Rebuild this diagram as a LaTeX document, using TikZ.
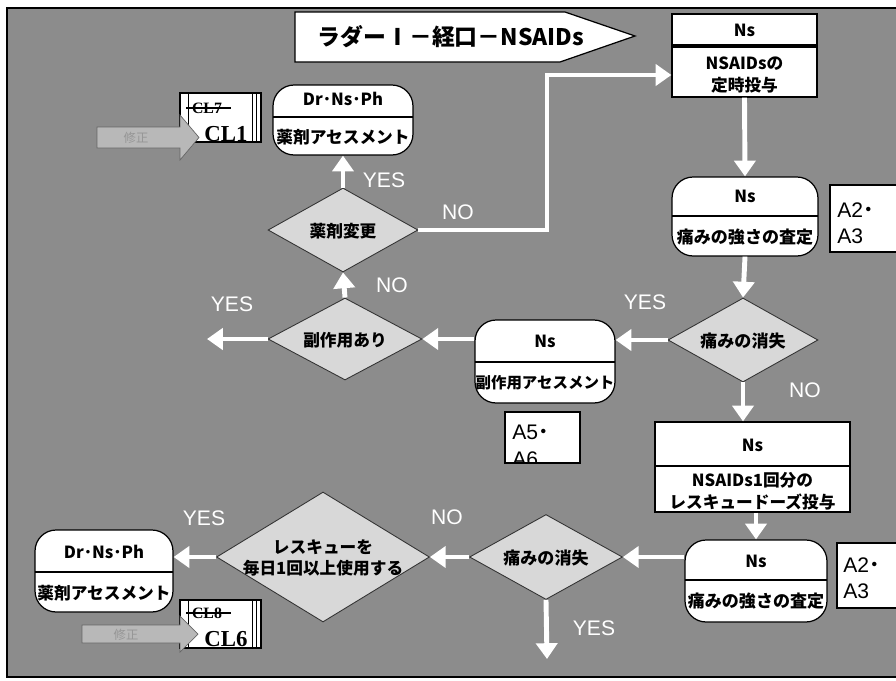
\documentclass[tikz,border=0pt]{standalone}
\usepackage{fontspec}
\setmainfont{Liberation Sans}
\newfontfamily\jp{Noto Sans CJK JP}
\newfontfamily\serifb{Liberation Serif}
\usetikzlibrary{shapes.geometric,arrows.meta}
\definecolor{bg}{RGB}{140,140,140}
\definecolor{dfill}{RGB}{216,216,216}
\definecolor{afill}{RGB}{184,184,184}
\definecolor{atext}{RGB}{150,150,150}
\begin{document}
\begin{tikzpicture}[x=0.02cm,y=-0.02cm,
  jptxt/.style={font=\jp\bfseries\fontsize{9.5}{13}\selectfont, align=center, inner sep=0pt},
  jpbig/.style={font=\jp\bfseries\fontsize{9.7}{13}\selectfont, align=center, inner sep=0pt},
  assess/.style={draw=black, fill=white, rounded corners=12pt, line width=0.7pt, inner sep=0pt},
  sbox/.style={draw=black, fill=white, line width=0.7pt, inner sep=0pt},
  sepline/.style={draw=black, line width=1pt},
  dia/.style={diamond, draw=black!80, fill=dfill, line width=0.5pt, inner sep=0pt},
  warr/.style={draw=white, line width=2.8pt, -{Triangle[width=12pt,length=9pt]}},
  lbl/.style={text=white, font=\fontsize{12}{12}\selectfont, inner sep=0pt},
  atxt/.style={font=\fontsize{12}{12}\selectfont, inner sep=0pt, anchor=west},
  cltxt/.style={font=\serifb\bfseries\fontsize{13}{13}\selectfont, inner sep=0pt},
  clold/.style={font=\serifb\bfseries\fontsize{9}{9}\selectfont, inner sep=0pt},
  corr/.style={fill=afill, draw=black!60, line width=0.4pt},
  corrtxt/.style={font=\jp\fontsize{7}{7}\selectfont, text=atext, inner sep=0pt}]

% canvas
\fill[white] (0,0) rectangle (896,680);
\useasboundingbox (0,0) rectangle (896,680);
\fill[bg] (7,8) rectangle (900,677);
\draw[black, line width=0.8pt] (900,8) -- (7,8) -- (7,677) -- (900,677);

% title
\draw[sbox] (295,12) -- (565,12) -- (635,36) -- (560,62) -- (295,62) -- cycle;
\node[font=\jp\bfseries\fontsize{13}{13}\selectfont, inner sep=0pt] (title) at (451,37) {ラダーⅠ－経口－NSAIDs};

% top box Ns / NSAIDs
\node[sbox, minimum width=2.9cm, minimum height=1.66cm] (b1) at (744.5,55.5) {};
\draw[black, line width=1.8pt] (672,46) -- (817,46);
\node[jptxt] (b1t) at (744.5,30) {Ns};
\node[jptxt] (b1b) at (744.5,75) {NSAIDsの\\定時投与};

% assessment shape 1
\node[assess, minimum width=2.92cm, minimum height=1.58cm] (s1) at (745,216.5) {};
\draw[sepline] (672,216) -- (818,216);
\node[jptxt] (s1t) at (745,196) {Ns};
\node[jpbig] (s1b) at (745,237) {痛みの強さの査定};

% A2 A3 box 1
\node[sbox, minimum width=1.5cm, minimum height=1.34cm] (a1) at (867.5,218.5) {};
\node[atxt] (a1l1) at (837,210) {A2{\jp\bfseries ･}};
\node[atxt] (a1l2) at (837,236) {A3};

% diamond 1
\node[dia, minimum width=3.0cm, minimum height=1.68cm] (d1) at (743,340) {};
\node[jpbig] (d1t) at (743,341) {痛みの消失};

% assessment shape 2
\node[assess, minimum width=2.8cm, minimum height=1.66cm] (s2) at (545,361.5) {};
\draw[sepline] (475,362) -- (615,362);
\node[jptxt] (s2t) at (545,341) {Ns};
\node[font=\jp\bfseries\fontsize{8.8}{12}\selectfont, inner sep=0pt] (s2b) at (545,383) {副作用アセスメント};

% A5 A6 box
\node[sbox, minimum width=1.5cm, minimum height=1.02cm] (a3) at (542.5,437.5) {};
\begin{scope}
  \clip (505,412) rectangle (580,463);
  \node[atxt] (a3l1) at (512,432) {A5{\jp\bfseries ･}};
  \node[atxt] (a3l2) at (512,459) {A6};
\end{scope}

% diamond 2
\node[dia, minimum width=3.08cm, minimum height=1.64cm] (d2) at (345,339) {};
\node[jptxt] (d2t) at (345,340) {副作用あり};
\coordinate (e2) at (207,339);

% diamond 3
\node[dia, minimum width=3.0cm, minimum height=1.68cm] (d3) at (343,230) {};
\node[jptxt] (d3t) at (343,231) {薬剤変更};

% assessment shape 3
\node[assess, minimum width=2.8cm, minimum height=1.4cm] (s3) at (343,120) {};
\draw[sepline] (273,117) -- (413,117);
\node[jptxt] (s3t) at (343,99) {Dr･Ns･Ph};
\node[jptxt] (s3b) at (343,137) {薬剤アセスメント};

% CL1 box
\node[sbox, minimum width=1.62cm, minimum height=0.98cm] (c1) at (220.5,117.5) {};
\draw[black, line width=0.5pt] (188,93) -- (188,142) (252,93) -- (252,142) (256,93) -- (256,142);
\node[clold] (c1s) at (207,108) {CL7};
\draw[black, line width=0.8pt] ([xshift=-3pt]c1s.west) -- ([xshift=5pt]c1s.east);
\node[cltxt] (c1t) at (226,134) {CL1};
\draw[corr] (97,127) -- (180,127) -- (180,115) -- (199,137.5) -- (180,160) -- (180,148) -- (97,148) -- cycle;
\node[corrtxt] (m1) at (136,138) {修正};

% bottom box Ns / rescue
\node[sbox, minimum width=3.9cm, minimum height=1.8cm] (b2) at (752.5,467) {};
\draw[sepline] (655,466) -- (850,466);
\node[jptxt] (b2t) at (752.5,445) {Ns};
\node[jptxt, font=\jp\bfseries\fontsize{9.5}{12.5}\selectfont] (b2b) at (752.5,491) {NSAIDs1回分の\\レスキュードーズ投与};

% assessment shape 4
\node[assess, minimum width=2.84cm, minimum height=1.64cm] (s4) at (756,581) {};
\draw[sepline] (685,580) -- (827,580);
\node[jptxt] (s4t) at (756,561) {Ns};
\node[jpbig] (s4b) at (756,601) {痛みの強さの査定};

% A2 A3 box 2
\node[sbox, minimum width=1.36cm, minimum height=1.3cm] (a2) at (871,575.5) {};
\node[atxt] (a2l1) at (843,565) {A2{\jp\bfseries ･}};
\node[atxt] (a2l2) at (843,591) {A3};

% diamond 4
\node[dia, minimum width=3.06cm, minimum height=1.7cm] (d4) at (546,557) {};
\node[jpbig] (d4t) at (546,558) {痛みの消失};
\coordinate (e4) at (547,659);

% diamond 5
\node[dia, minimum width=4.26cm, minimum height=2.6cm] (d5) at (323,557) {};
\node[jptxt, font=\jp\bfseries\fontsize{9.5}{12}\selectfont] (d5t) at (323,558) {レスキューを\\毎日1回以上使用する};

% assessment shape 5
\node[assess, minimum width=2.76cm, minimum height=1.64cm] (s5) at (104,571) {};
\draw[sepline] (35,572) -- (173,572);
\node[jptxt] (s5t) at (104,552) {Dr･Ns･Ph};
\node[jptxt] (s5b) at (104,593) {薬剤アセスメント};

% CL6 box
\node[sbox, minimum width=1.62cm, minimum height=0.96cm] (c6) at (220.5,624) {};
\draw[black, line width=0.5pt] (188,600) -- (188,648) (252,600) -- (252,648) (256,600) -- (256,648);
\node[clold] (c6s) at (207,613) {CL8};
\draw[black, line width=0.8pt] ([xshift=-3pt]c6s.west) -- ([xshift=5pt]c6s.east);
\node[cltxt] (c6t) at (226,639) {CL6};
\draw[corr] (82,625) -- (180,625) -- (180,616) -- (198,634) -- (180,652) -- (180,643) -- (82,643) -- cycle;
\node[corrtxt] (m6) at (126,635) {修正};

% connectors
\draw[warr] (b1.south) -- (s1.north);
\draw[warr] (s1.south) -- (d1.north);
\draw[warr] (d1.west) -- (d1.west -| s2.east);
\draw[warr] (d1.south) -- (d1.south |- b2.north);
\draw[warr] (d2.east -| s2.west) -- (d2.east);
\draw[warr] (d2.west) -- (e2);
\draw[warr] (d2.north) -- (d3.south);
\draw[warr] (d3.north) -- (s3.south);
\coordinate (k1) at (547,75);
\draw[draw=white, line width=2.4pt, -{Triangle[width=12pt,length=9pt]}] (d3.east) -| (k1) -- (k1 -| b1.west);
\draw[warr] (b2.south -| s4.north) -- (s4.north);
\draw[warr] (d4.east -| s4.west) -- (d4.east);
\draw[warr] (d4.south) -- (e4);
\draw[warr] (d4.west) -- (d5.east);
\draw[warr] (d5.west) -- (d5.west -| s5.east);

% labels
\node[lbl] (y1) at (645,302) {YES};
\node[lbl] (n1) at (805,390) {NO};
\node[lbl] (y2) at (232,304) {YES};
\node[lbl] (n2) at (392,285) {NO};
\node[lbl] (y3) at (384,180) {YES};
\node[lbl] (n3) at (458,212) {NO};
\node[lbl] (y4) at (594,628) {YES};
\node[lbl] (n4) at (447,517) {NO};
\node[lbl] (y5) at (204,518) {YES};
\end{tikzpicture}
\end{document}
